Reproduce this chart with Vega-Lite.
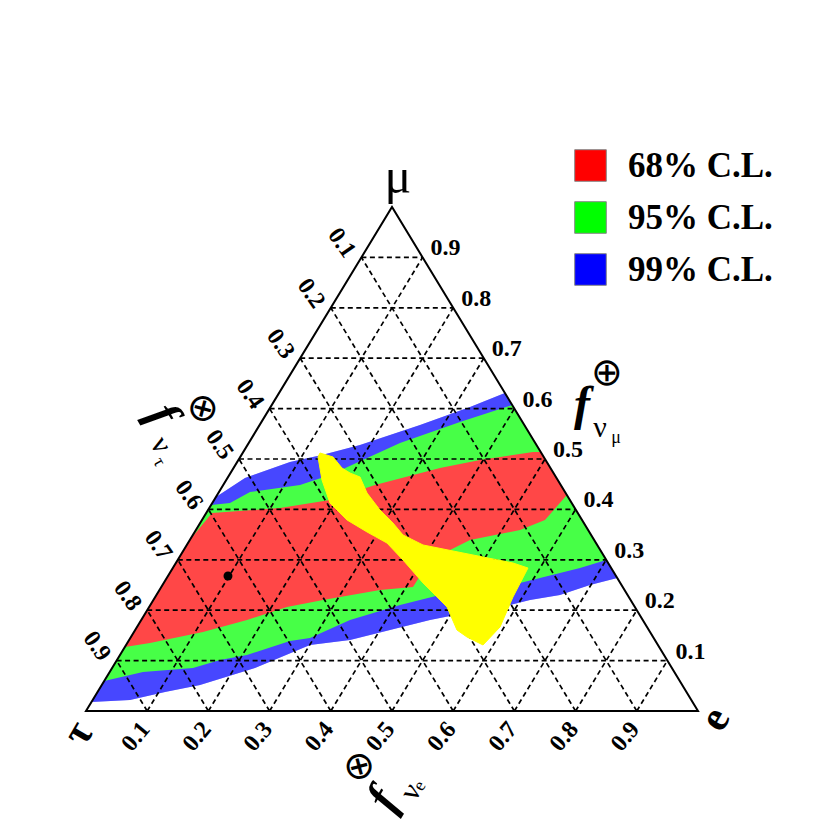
{
  "$schema": "https://vega.github.io/schema/vega-lite/v6.json",
  "width": 830,
  "height": 830,
  "padding": 0,
  "autosize": {"type": "none"},
  "background": "white",
  "config": {"view": {"stroke": null}},
  "datasets": {
    "blue": [
      {"i":0,"x":0.2123,"y":0.4246},{"i":1,"x":0.2598,"y":0.4623},{"i":2,"x":0.3333,"y":0.4940},{"i":3,"x":0.3856,"y":0.5079},
      {"i":4,"x":0.4477,"y":0.5278},{"i":5,"x":0.5458,"y":0.5675},{"i":6,"x":0.6275,"y":0.6032},{"i":7,"x":0.6845,"y":0.6310},
      {"i":8,"x":0.8681,"y":0.2639},{"i":9,"x":0.8235,"y":0.25},{"i":10,"x":0.7745,"y":0.2302},{"i":11,"x":0.7255,"y":0.2202},
      {"i":12,"x":0.6928,"y":0.2103},{"i":13,"x":0.6275,"y":0.1964},{"i":14,"x":0.5621,"y":0.1806},{"i":15,"x":0.4967,"y":0.1607},
      {"i":16,"x":0.4314,"y":0.1409},{"i":17,"x":0.3660,"y":0.1310},{"i":18,"x":0.2761,"y":0.0853},{"i":19,"x":0.1863,"y":0.0516},
      {"i":20,"x":0.1291,"y":0.0377},{"i":21,"x":0.0719,"y":0.0218},{"i":22,"x":0.0089,"y":0.0179}
    ],
    "green": [
      {"i":0,"x":0.2044,"y":0.4087},{"i":1,"x":0.2353,"y":0.4127},{"i":2,"x":0.2680,"y":0.4345},{"i":3,"x":0.3497,"y":0.4484},
      {"i":4,"x":0.3987,"y":0.4683},{"i":5,"x":0.5131,"y":0.5317},{"i":6,"x":0.6111,"y":0.5734},{"i":7,"x":0.6964,"y":0.6071},
      {"i":8,"x":0.8502,"y":0.2996},{"i":9,"x":0.8072,"y":0.2837},{"i":10,"x":0.7418,"y":0.2639},{"i":11,"x":0.7092,"y":0.2540},
      {"i":12,"x":0.6438,"y":0.2401},{"i":13,"x":0.5784,"y":0.2302},{"i":14,"x":0.5131,"y":0.2103},{"i":15,"x":0.4314,"y":0.1806},
      {"i":16,"x":0.3660,"y":0.1448},{"i":17,"x":0.3333,"y":0.1389},{"i":18,"x":0.2631,"y":0.1111},{"i":19,"x":0.2190,"y":0.1012},
      {"i":20,"x":0.1748,"y":0.0853},{"i":21,"x":0.0931,"y":0.0774},{"i":22,"x":0.0298,"y":0.0595}
    ],
    "red": [
      {"i":0,"x":0.1696,"y":0.3393},{"i":1,"x":0.2059,"y":0.3929},{"i":2,"x":0.3170,"y":0.4028},{"i":3,"x":0.3987,"y":0.4187},
      {"i":4,"x":0.4722,"y":0.4484},{"i":5,"x":0.5784,"y":0.4821},{"i":6,"x":0.6438,"y":0.4980},{"i":7,"x":0.7304,"y":0.5139},
      {"i":8,"x":0.7431,"y":0.5139},{"i":9,"x":0.7857,"y":0.4286},{"i":10,"x":0.75,"y":0.3790},{"i":11,"x":0.7092,"y":0.3591},
      {"i":12,"x":0.6275,"y":0.3393},{"i":13,"x":0.5621,"y":0.2996},{"i":14,"x":0.5343,"y":0.2460},{"i":15,"x":0.4804,"y":0.2401},
      {"i":16,"x":0.3873,"y":0.2202},{"i":17,"x":0.3284,"y":0.2063},{"i":18,"x":0.2631,"y":0.1806},{"i":19,"x":0.1912,"y":0.1567},
      {"i":20,"x":0.1046,"y":0.1349},{"i":21,"x":0.0635,"y":0.1270}
    ],
    "yellow": [
      {"i":0,"x":0.3824,"y":0.5119},{"i":1,"x":0.4036,"y":0.5040},{"i":2,"x":0.4183,"y":0.4821},{"i":3,"x":0.4314,"y":0.4722},
      {"i":4,"x":0.4477,"y":0.4643},{"i":5,"x":0.4592,"y":0.4325},{"i":6,"x":0.4804,"y":0.3988},{"i":7,"x":0.5016,"y":0.3730},
      {"i":8,"x":0.5180,"y":0.3492},{"i":9,"x":0.5507,"y":0.3294},{"i":10,"x":0.6160,"y":0.3135},{"i":11,"x":0.6977,"y":0.2937},
      {"i":12,"x":0.7222,"y":0.2837},{"i":13,"x":0.6977,"y":0.2262},{"i":14,"x":0.6765,"y":0.1667},{"i":15,"x":0.6487,"y":0.1310},
      {"i":16,"x":0.6225,"y":0.1468},{"i":17,"x":0.6062,"y":0.1607},{"i":18,"x":0.5899,"y":0.2063},{"i":19,"x":0.5507,"y":0.2540},
      {"i":20,"x":0.5180,"y":0.2996},{"i":21,"x":0.4918,"y":0.3333},{"i":22,"x":0.4592,"y":0.3552},{"i":23,"x":0.4265,"y":0.3790},
      {"i":24,"x":0.3987,"y":0.4127},{"i":25,"x":0.3856,"y":0.4583},{"i":26,"x":0.3791,"y":0.5040}
    ],
    "frame": [
      {"i":0,"x":0,"y":0},{"i":1,"x":1,"y":0},{"i":2,"x":0.5,"y":1}
    ],
    "grid": [
      {"x":0.05,"y":0.1,"x2":0.95,"y2":0.1},{"x":0.1,"y":0.2,"x2":0.9,"y2":0.2},{"x":0.15,"y":0.3,"x2":0.85,"y2":0.3},
      {"x":0.2,"y":0.4,"x2":0.8,"y2":0.4},{"x":0.25,"y":0.5,"x2":0.75,"y2":0.5},{"x":0.3,"y":0.6,"x2":0.7,"y2":0.6},
      {"x":0.35,"y":0.7,"x2":0.65,"y2":0.7},{"x":0.4,"y":0.8,"x2":0.6,"y2":0.8},{"x":0.45,"y":0.9,"x2":0.55,"y2":0.9},
      {"x":0.1,"y":0,"x2":0.55,"y2":0.9},{"x":0.2,"y":0,"x2":0.6,"y2":0.8},{"x":0.3,"y":0,"x2":0.65,"y2":0.7},
      {"x":0.4,"y":0,"x2":0.7,"y2":0.6},{"x":0.5,"y":0,"x2":0.75,"y2":0.5},{"x":0.6,"y":0,"x2":0.8,"y2":0.4},
      {"x":0.7,"y":0,"x2":0.85,"y2":0.3},{"x":0.8,"y":0,"x2":0.9,"y2":0.2},{"x":0.9,"y":0,"x2":0.95,"y2":0.1},
      {"x":0.9,"y":0,"x2":0.45,"y2":0.9},{"x":0.8,"y":0,"x2":0.4,"y2":0.8},{"x":0.7,"y":0,"x2":0.35,"y2":0.7},
      {"x":0.6,"y":0,"x2":0.3,"y2":0.6},{"x":0.5,"y":0,"x2":0.25,"y2":0.5},{"x":0.4,"y":0,"x2":0.2,"y2":0.4},
      {"x":0.3,"y":0,"x2":0.15,"y2":0.3},{"x":0.2,"y":0,"x2":0.1,"y2":0.2},{"x":0.1,"y":0,"x2":0.05,"y2":0.1}
    ],
    "ticks": [
      {"k":0.1,"label":"0.1"},{"k":0.2,"label":"0.2"},{"k":0.3,"label":"0.3"},{"k":0.4,"label":"0.4"},{"k":0.5,"label":"0.5"},
      {"k":0.6,"label":"0.6"},{"k":0.7,"label":"0.7"},{"k":0.8,"label":"0.8"},{"k":0.9,"label":"0.9"}
    ],
    "point": [{"x":0.2320,"y":0.2679}],
    "one": [{}]
  },
  "layer": [
    {
      "data": {"name": "blue"},
      "mark": {"type": "line", "filled": true, "interpolate": "linear-closed", "strokeWidth": 0},
      "encoding": {
        "x": {"field": "x", "type": "quantitative", "scale": {"domain": [-0.14052, 1.21569], "nice": false, "zero": false}, "axis": null},
        "y": {"field": "y", "type": "quantitative", "scale": {"domain": [-0.23611, 1.41071], "nice": false, "zero": false}, "axis": null},
        "order": {"field": "i"},
        "color": {"datum": "99% C.L.", "type": "nominal",
          "scale": {"domain": ["68% C.L.", "95% C.L.", "99% C.L."], "range": ["#ff0000", "#00ff00", "#0000ff"]},
          "legend": {"orient": "none", "legendX": 573, "legendY": 148, "title": null, "symbolType": "square", "symbolSize": 1000,
            "symbolStrokeColor": "#888888", "symbolStrokeWidth": 1, "symbolOpacity": 1, "labelFont": "Liberation Serif", "labelFontSize": 35,
            "labelFontWeight": "bold", "labelColor": "black", "rowPadding": 15, "labelOffset": 20, "padding": 0, "labelLimit": 300}}
      }
    },
    {
      "data": {"name": "green"},
      "mark": {"type": "line", "filled": true, "interpolate": "linear-closed", "strokeWidth": 0},
      "encoding": {
        "x": {"field": "x", "type": "quantitative"},
        "y": {"field": "y", "type": "quantitative"},
        "order": {"field": "i"},
        "color": {"datum": "95% C.L.", "type": "nominal"}
      }
    },
    {
      "data": {"name": "red"},
      "mark": {"type": "line", "filled": true, "interpolate": "linear-closed", "strokeWidth": 0},
      "encoding": {
        "x": {"field": "x", "type": "quantitative"},
        "y": {"field": "y", "type": "quantitative"},
        "order": {"field": "i"},
        "color": {"datum": "68% C.L.", "type": "nominal"}
      }
    },
    {
      "data": {"name": "blue"},
      "mark": {"type": "line", "fill": "white", "fillOpacity": 0.28, "strokeWidth": 0, "interpolate": "linear-closed"},
      "encoding": {
        "x": {"field": "x", "type": "quantitative"},
        "y": {"field": "y", "type": "quantitative"},
        "order": {"field": "i"}
      }
    },
    {
      "data": {"name": "grid"},
      "mark": {"type": "rule", "color": "black", "strokeWidth": 1.7, "strokeDash": [5, 3.5]},
      "encoding": {
        "x": {"field": "x", "type": "quantitative"},
        "y": {"field": "y", "type": "quantitative"},
        "x2": {"field": "x2"},
        "y2": {"field": "y2"}
      }
    },
    {
      "data": {"name": "yellow"},
      "mark": {"type": "line", "fill": "#ffff00", "stroke": "#ffff00", "strokeWidth": 1, "interpolate": "linear-closed"},
      "encoding": {
        "x": {"field": "x", "type": "quantitative"},
        "y": {"field": "y", "type": "quantitative"},
        "order": {"field": "i"}
      }
    },
    {
      "data": {"name": "point"},
      "mark": {"type": "point", "filled": true, "color": "black", "size": 80, "opacity": 1},
      "encoding": {
        "x": {"field": "x", "type": "quantitative"},
        "y": {"field": "y", "type": "quantitative"}
      }
    },
    {
      "data": {"name": "frame"},
      "mark": {"type": "line", "color": "black", "strokeWidth": 2, "interpolate": "linear-closed"},
      "encoding": {
        "x": {"field": "x", "type": "quantitative"},
        "y": {"field": "y", "type": "quantitative"},
        "order": {"field": "i"}
      }
    },
    {
      "data": {"name": "ticks"},
      "transform": [{"calculate": "1 - datum.k / 2", "as": "tx"}, {"calculate": "datum.k", "as": "ty"}],
      "mark": {"type": "text", "font": "Liberation Serif", "fontWeight": "bold", "fontSize": 24, "align": "left", "baseline": "middle", "dx": 8, "dy": -9, "color": "black"},
      "encoding": {
        "x": {"field": "tx", "type": "quantitative"},
        "y": {"field": "ty", "type": "quantitative"},
        "text": {"field": "label"}
      }
    },
    {
      "data": {"name": "ticks"},
      "transform": [{"calculate": "(1 - datum.k) / 2", "as": "tx"}, {"calculate": "1 - datum.k", "as": "ty"}],
      "mark": {"type": "text", "font": "Liberation Serif", "fontWeight": "bold", "fontSize": 24, "align": "right", "baseline": "middle", "angle": 55, "dx": -8, "dy": 8, "color": "black"},
      "encoding": {
        "x": {"field": "tx", "type": "quantitative"},
        "y": {"field": "ty", "type": "quantitative"},
        "text": {"field": "label"}
      }
    },
    {
      "data": {"name": "ticks"},
      "transform": [{"calculate": "datum.k", "as": "tx"}, {"calculate": "0", "as": "ty"}],
      "mark": {"type": "text", "font": "Liberation Serif", "fontWeight": "bold", "fontSize": 24, "align": "right", "baseline": "middle", "angle": -50, "dx": -12, "dy": 8, "color": "black"},
      "encoding": {
        "x": {"field": "tx", "type": "quantitative"},
        "y": {"field": "ty", "type": "quantitative"},
        "text": {"field": "label"}
      }
    },
    {
      "data": {"name": "one"},
      "mark": {"type": "text", "font": "Liberation Serif", "fontSize": 50, "align": "center", "baseline": "middle", "text": "μ", "color": "black"},
      "encoding": {"x": {"datum": 0.5098, "type": "quantitative"}, "y": {"datum": 1.0575, "type": "quantitative"}}
    },
    {
      "data": {"name": "one"},
      "mark": {"type": "text", "font": "Liberation Serif", "fontWeight": "bold", "fontSize": 42, "align": "center", "baseline": "middle", "text": "e", "angle": -60, "color": "black"},
      "encoding": {"x": {"datum": 1.0278, "type": "quantitative"}, "y": {"datum": -0.0159, "type": "quantitative"}}
    },
    {
      "data": {"name": "one"},
      "mark": {"type": "text", "font": "Liberation Serif", "fontWeight": "bold", "fontSize": 42, "align": "center", "baseline": "middle", "text": "τ", "angle": -60, "color": "black"},
      "encoding": {"x": {"datum": -0.0131, "type": "quantitative"}, "y": {"datum": -0.0437, "type": "quantitative"}}
    },
    {
      "data": {"name": "one"},
      "mark": {"type": "text", "font": "Liberation Serif", "fontWeight": "bold", "fontStyle": "italic", "fontSize": 48, "align": "center", "baseline": "middle", "text": "f", "color": "black"},
      "encoding": {"x": {"datum": 0.8105, "type": "quantitative"}, "y": {"datum": 0.6052, "type": "quantitative"}}
    },
    {
      "data": {"name": "one"},
      "mark": {"type": "text", "font": "DejaVu Sans", "fontSize": 38, "align": "center", "baseline": "middle", "text": "⊕", "color": "black"},
      "encoding": {"x": {"datum": 0.8513, "type": "quantitative"}, "y": {"datum": 0.6687, "type": "quantitative"}}
    },
    {
      "data": {"name": "one"},
      "mark": {"type": "text", "font": "Liberation Serif", "fontSize": 30, "align": "center", "baseline": "middle", "text": "ν", "color": "black"},
      "encoding": {"x": {"datum": 0.8399, "type": "quantitative"}, "y": {"datum": 0.5615, "type": "quantitative"}}
    },
    {
      "data": {"name": "one"},
      "mark": {"type": "text", "font": "Liberation Serif", "fontSize": 18, "align": "center", "baseline": "middle", "text": "μ", "color": "black"},
      "encoding": {"x": {"datum": 0.8660, "type": "quantitative"}, "y": {"datum": 0.5417, "type": "quantitative"}}
    },
    {
      "data": {"name": "one"},
      "mark": {"type": "text", "font": "Liberation Serif", "fontWeight": "bold", "fontStyle": "italic", "fontSize": 48, "align": "center", "baseline": "middle", "text": "f", "angle": 60, "color": "black"},
      "encoding": {"x": {"datum": 0.1242, "type": "quantitative"}, "y": {"datum": 0.5873, "type": "quantitative"}}
    },
    {
      "data": {"name": "one"},
      "mark": {"type": "text", "font": "DejaVu Sans", "fontSize": 38, "align": "center", "baseline": "middle", "text": "⊗", "angle": 60, "color": "black"},
      "encoding": {"x": {"datum": 0.1895, "type": "quantitative"}, "y": {"datum": 0.5992, "type": "quantitative"}}
    },
    {
      "data": {"name": "one"},
      "mark": {"type": "text", "font": "Liberation Serif", "fontSize": 30, "align": "center", "baseline": "middle", "text": "ν", "angle": 60, "color": "black"},
      "encoding": {"x": {"datum": 0.1225, "type": "quantitative"}, "y": {"datum": 0.5278, "type": "quantitative"}}
    },
    {
      "data": {"name": "one"},
      "mark": {"type": "text", "font": "Liberation Serif", "fontSize": 18, "align": "center", "baseline": "middle", "text": "τ", "angle": 60, "color": "black"},
      "encoding": {"x": {"datum": 0.1193, "type": "quantitative"}, "y": {"datum": 0.4940, "type": "quantitative"}}
    },
    {
      "data": {"name": "one"},
      "mark": {"type": "text", "font": "Liberation Serif", "fontWeight": "bold", "fontStyle": "italic", "fontSize": 48, "align": "center", "baseline": "middle", "text": "f", "angle": -60, "color": "black"},
      "encoding": {"x": {"datum": 0.4869, "type": "quantitative"}, "y": {"datum": -0.1766, "type": "quantitative"}}
    },
    {
      "data": {"name": "one"},
      "mark": {"type": "text", "font": "DejaVu Sans", "fontSize": 38, "align": "center", "baseline": "middle", "text": "⊗", "angle": -60, "color": "black"},
      "encoding": {"x": {"datum": 0.4477, "type": "quantitative"}, "y": {"datum": -0.1111, "type": "quantitative"}}
    },
    {
      "data": {"name": "one"},
      "mark": {"type": "text", "font": "Liberation Serif", "fontSize": 30, "align": "center", "baseline": "middle", "text": "ν", "angle": -60, "color": "black"},
      "encoding": {"x": {"datum": 0.5310, "type": "quantitative"}, "y": {"datum": -0.1607, "type": "quantitative"}}
    },
    {
      "data": {"name": "one"},
      "mark": {"type": "text", "font": "Liberation Serif", "fontSize": 18, "align": "center", "baseline": "middle", "text": "e", "angle": -60, "color": "black"},
      "encoding": {"x": {"datum": 0.5458, "type": "quantitative"}, "y": {"datum": -0.1488, "type": "quantitative"}}
    }
  ]
}
